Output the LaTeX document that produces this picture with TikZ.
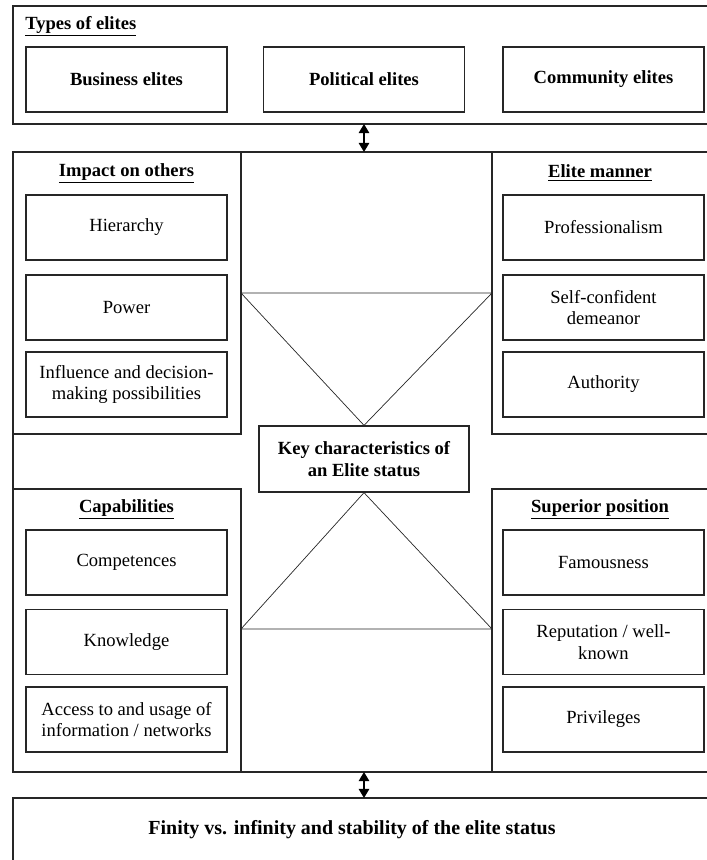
\documentclass[tikz,border=0pt]{standalone}
\usepackage{fontspec}
\setmainfont{Liberation Serif}
\usetikzlibrary{arrows.meta, positioning}

\begin{document}
\begin{tikzpicture}[
  x=0.025cm, y=-0.025cm,
  frame/.style={draw=black!85, line width=0.9pt},
  itembox/.style={draw=black!85, line width=0.9pt, minimum width=5.025cm, minimum height=1.625cm, align=center, font=\fontsize{13.2}{15.5}\selectfont, inner sep=2pt},
  typebox/.style={itembox, font=\fontsize{13.2}{15.5}\selectfont\bfseries},
  keybox/.style={draw=black!85, line width=0.9pt, minimum width=5.25cm, minimum height=1.65cm, align=center, font=\fontsize{13.2}{15.5}\selectfont\bfseries},
  paneltitle/.style={font=\fontsize{13.2}{15.5}\selectfont\bfseries, inner sep=0pt},
  link/.style={black!85, line width=0.5pt},
  twoway/.style={{Triangle[length=6.5pt,width=7.5pt]}-{Triangle[length=6.5pt,width=7.5pt]}, line width=0.9pt}
]
  \useasboundingbox (0,0) rectangle (707,860);

  \draw[frame] (13,6) rectangle (720,124);
  \draw[frame] (13,152) rectangle (720,772);
  \draw[frame] (13,152) rectangle (241,434);
  \draw[frame] (13,489) rectangle (241,772);
  \draw[frame] (492,152) rectangle (720,434);
  \draw[frame] (492,489) rectangle (720,772);
  \draw[frame] (13,798) rectangle (720,880);

  \node[paneltitle, anchor=west] (typestitle) at (25,26) {\underline{Types of elites}};
  \node[typebox] (business) at (126.5,79.5) {Business elites};
  \node[typebox] (political) at (364,79.5) {Political elites};
  \node[typebox] (community) at (603.5,79.5) {Community elites};

  \node[paneltitle] (impacttitle) at (126.5,173) {\underline{Impact on others}};
  \node[itembox] (hierarchy) at (126.5,227.5) {Hierarchy};
  \node[itembox] (power) at (126.5,307.5) {Power};
  \node[itembox] (influence) at (126.5,384.5) {Influence and decision-\\making possibilities};

  \node[paneltitle] (mannertitle) at (600,173) {\underline{Elite manner}};
  \node[itembox] (professionalism) at (603.5,227.5) {Professionalism};
  \node[itembox] (selfconfident) at (603.5,307.5) {Self-confident\\demeanor};
  \node[itembox] (authority) at (603.5,384.5) {Authority};

  \node[paneltitle] (capabtitle) at (126.5,509) {\underline{Capabilities}};
  \node[itembox] (competences) at (126.5,562.5) {Competences};
  \node[itembox] (knowledge) at (126.5,642) {Knowledge};
  \node[itembox] (access) at (126.5,719.5) {Access to and usage of\\information / networks};

  \node[paneltitle] (positiontitle) at (600,509) {\underline{Superior position}};
  \node[itembox] (famousness) at (603.5,562.5) {Famousness};
  \node[itembox] (reputation) at (603.5,642) {Reputation / well-\\known};
  \node[itembox] (privileges) at (603.5,719.5) {Privileges};

  \node[keybox] (key) at (364,459) {Key characteristics of\\an Elite status};

  \coordinate (uppl) at (241,293);
  \coordinate (uppr) at (492,293);
  \coordinate (lowl) at (241,629);
  \coordinate (lowr) at (492,629);
  \draw[link] (uppl) -- (uppr) -- (key.north) -- cycle;
  \draw[link] (lowl) -- (lowr) -- (key.south) -- cycle;

  \node[font=\fontsize{14.2}{16}\selectfont\bfseries] (finity) at (352,830) {Finity vs. infinity and stability of the elite status};

  \coordinate (typesbottom) at (364,124);
  \coordinate (maintop) at (364,152);
  \coordinate (mainbottom) at (364,772);
  \coordinate (finitytop) at (364,798);
  \draw[twoway] (typesbottom) -- (maintop);
  \draw[twoway] (mainbottom) -- (finitytop);
\end{tikzpicture}
\end{document}
